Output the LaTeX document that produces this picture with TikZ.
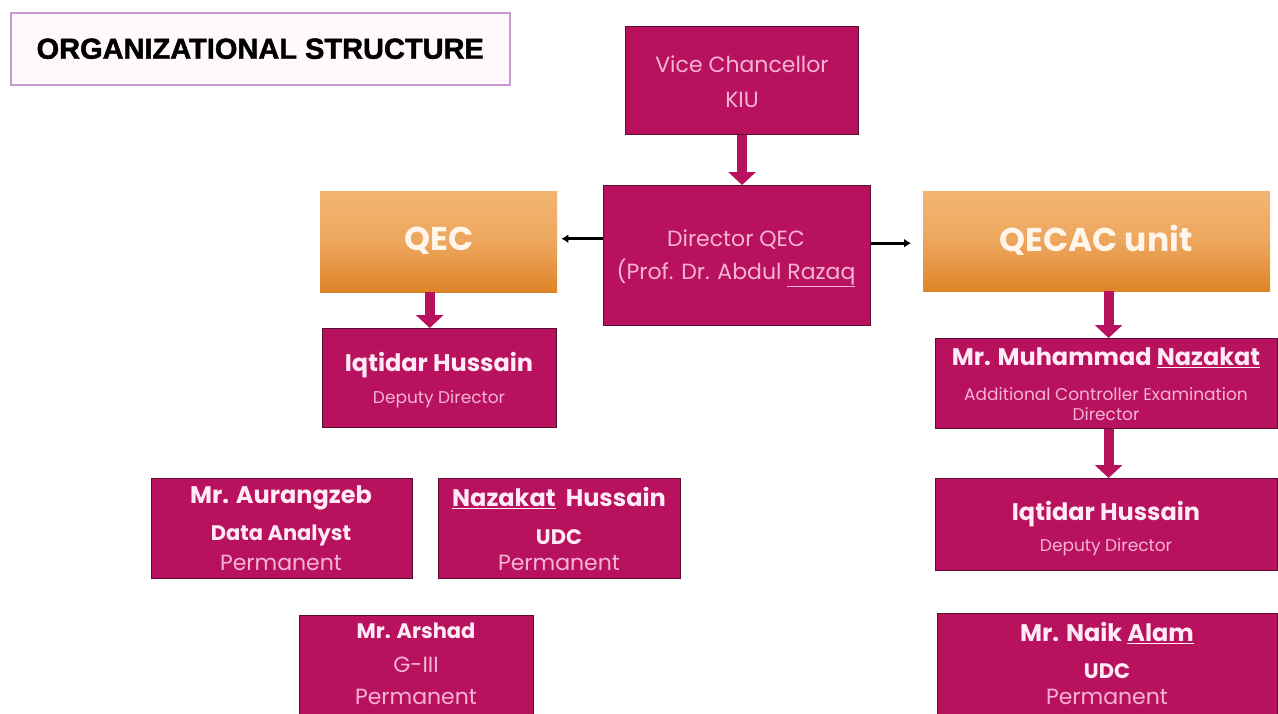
\documentclass[tikz,border=0pt]{standalone}
\usepackage{fontspec}
\usetikzlibrary{arrows.meta,calc}
\newfontfamily\boxfont{Poppins}
\newfontfamily\titlefont{Liberation Sans Bold}[FakeBold=1.6]
\definecolor{boxfill}{HTML}{B8125F}
\definecolor{boxedge}{HTML}{5C0B33}
\definecolor{namecol}{HTML}{FFEAF5}
\definecolor{subcol}{HTML}{F6B3D6}
\definecolor{orangetop}{HTML}{F3B574}
\definecolor{orangebot}{HTML}{DE8428}
\definecolor{titleedge}{HTML}{C89AD2}
\definecolor{titlefill}{HTML}{FFF8FD}
\newcommand{\fs}[1]{\fontsize{#1}{#1}\selectfont}
\begin{document}
\begin{tikzpicture}[x=1pt,y=-1pt,
  box/.style={draw=boxedge, line width=1.2pt, fill=boxfill, inner sep=0pt, anchor=north west},
  obox/.style={inner sep=0pt, anchor=north west, top color=orangetop, bottom color=orangebot, middle color=orangetop!70!orangebot},
  nametxt/.style={text=namecol, font=\boxfont\bfseries\fs{24}, inner sep=0pt},
  subtxt/.style={text=subcol, font=\boxfont\fs{17}, inner sep=0pt},
  bsubtxt/.style={text=namecol, font=\boxfont\bfseries\fs{21}, inner sep=0pt},
  permtxt/.style={text=subcol, font=\boxfont\fs{22}, inner sep=0pt},
  midtxt/.style={text=subcol, font=\boxfont\fs{22}, inner sep=0pt},
  bigtxt/.style={text=white!92!orange, font=\boxfont\bfseries\fs{33}, inner sep=0pt},
  fatarrow/.style={draw=boxfill, line width=10pt, -{Triangle[width=27pt,length=13pt]}},
  thinarrow/.style={draw=black, line width=3pt, -{Latex[length=7pt,width=9pt]}}
]
\useasboundingbox (0,0) rectangle (1278,713);
\fill[white] (0,0) rectangle (1278,713);

% title
\node[draw=titleedge, line width=1.5pt, fill=titlefill, inner sep=0pt, anchor=north west,
      minimum width=499pt, minimum height=72pt] (title) at (10,12) {};
\node[font=\titlefont\fs{29}, inner sep=0pt] (titletxt) at (title.center) {ORGANIZATIONAL STRUCTURE};

% boxes
\node[box, minimum width=233pt, minimum height=108pt] (vc) at (625,26) {};
\node[box, minimum width=267pt, minimum height=140pt] (dir) at (603,185) {};
\node[obox, minimum width=237pt, minimum height=101pt] (qec) at (320,191) {};
\node[obox, minimum width=347pt, minimum height=100pt] (qecac) at (923,191) {};
\node[box, minimum width=234pt, minimum height=99pt] (iqa) at (322,328) {};
\node[box, minimum width=342pt, minimum height=90pt] (naz) at (935,338) {};
\node[box, minimum width=342pt, minimum height=92pt] (iqb) at (935,478) {};
\node[box, minimum width=261pt, minimum height=100pt] (aur) at (151,478) {};
\node[box, minimum width=242pt, minimum height=100pt] (nhu) at (438,478) {};
\node[box, minimum width=234pt, minimum height=100pt] (ars) at (299,615) {};
\node[box, minimum width=340pt, minimum height=102pt] (nai) at (937,613) {};

% texts
\node[midtxt] (vc1) at (742,64) {Vice Chancellor};
\node[midtxt] (vc2) at (742,100) {KIU};
\node[midtxt] (dir1) at (736,240) {Director QEC};
\node[midtxt] (dir2) at (736,273) {(Prof. Dr. Abdul \underline{Razaq}};
\node[bigtxt] (qect) at (439,241) {QEC};
\node[bigtxt] (qecact) at (1096,240) {QECAC unit};
\node[nametxt] (iqa1) at (439,365) {Iqtidar Hussain};
\node[subtxt] (iqa2) at (439,399) {Deputy Director};
\node[nametxt] (naz1) at (1106,358) {Mr. Muhammad \underline{Nazakat}};
\node[subtxt] (naz2) at (1106,394) {Additional Controller Examination};
\node[subtxt] (naz3) at (1106,414) {Director};
\node[nametxt] (iqb1) at (1106,514) {Iqtidar Hussain};
\node[subtxt] (iqb2) at (1106,547) {Deputy Director};
\node[nametxt] (aur1) at (281,498) {Mr. Aurangzeb};
\node[bsubtxt] (aur2) at (281,536) {Data Analyst};
\node[permtxt] (aur3) at (281,563) {Permanent};
\node[nametxt] (nhu1) at (559,498) {\underline{Nazakat}\ \ Hussain};
\node[bsubtxt] (nhu2) at (559,537) {UDC};
\node[permtxt] (nhu3) at (559,563) {Permanent};
\node[nametxt, font=\boxfont\bfseries\fs{21}] (ars1) at (416,631) {Mr. Arshad};
\node[permtxt] (ars2) at (416,665) {G-III};
\node[permtxt] (ars3) at (416,697) {Permanent};
\node[nametxt] (nai1) at (1107,633) {Mr. Naik \underline{Alam}};
\node[bsubtxt] (nai2) at (1107,671) {UDC};
\node[permtxt] (nai3) at (1107,697) {Permanent};

% connectors
\draw[fatarrow] (vc.south) -- (vc.south |- dir.north);
\draw[fatarrow] ([xshift=-9pt]qec.south) -- ([xshift=-9pt]qec.south |- iqa.north);
\draw[fatarrow] ([xshift=2pt]naz.north |- qecac.south) -- ([xshift=2pt]naz.north);
\draw[fatarrow] ([xshift=2pt]naz.south) -- ([xshift=2pt]naz.south |- iqb.north);
\draw[thinarrow] ([yshift=3pt]dir.west |- qec.east) -- ([xshift=4pt,yshift=3pt]qec.east);
\draw[thinarrow] ([yshift=-2pt]dir.east |- qecac.west) -- ([xshift=-12pt,yshift=-2pt]qecac.west);
\end{tikzpicture}
\end{document}
